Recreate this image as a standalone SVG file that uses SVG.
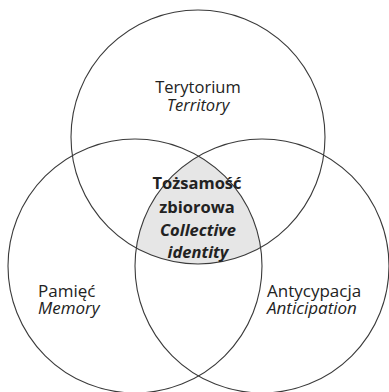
<svg xmlns="http://www.w3.org/2000/svg" width="389" height="392" viewBox="0 0 389 392">
<style>
.c{fill:none;stroke:#3a3a3a;stroke-width:1.1}
.t{font-family:"Open Sans","Liberation Sans",sans-serif;font-size:16.5px;fill:#222}
.s{font-size:17px}
.i{font-style:italic}
.b{font-weight:bold}
.m{text-anchor:middle}
</style>
<rect width="389" height="392" fill="#fff"/>
<g id="core">
<path d="M198.5,156 A127,127 0 0,1 260.6,247.5 A127,127 0 0,1 136.3,248 A127,127 0 0,1 198.5,156 Z" fill="#e6e6e6"/>
</g>
<g id="territory">
<circle class="c" cx="198" cy="137" r="127"/>
<text class="t m"><tspan x="198" y="92.5">Terytorium</tspan><tspan class="i" x="198" y="110.5">Territory</tspan></text>
</g>
<g id="memory">
<circle class="c" cx="135" cy="266" r="127"/>
<text class="t s"><tspan x="38" y="296.5">Pamięć</tspan><tspan class="i" x="38" y="313.5">Memory</tspan></text>
</g>
<g id="anticipation">
<circle class="c" cx="262" cy="266" r="127"/>
<text class="t s"><tspan x="267" y="296.5">Antycypacja</tspan><tspan class="i" x="267" y="313.5">Anticipation</tspan></text>
</g>
<g id="collective-identity">
<text class="t m b" x="197" y="189">Tożsamość</text>
<text class="t m b" x="197" y="213">zbiorowa</text>
<text class="t m b i" x="198" y="236">Collective</text>
<text class="t m b i" x="198" y="258">identity</text>
</g>
<g id="connectors"></g>
</svg>
